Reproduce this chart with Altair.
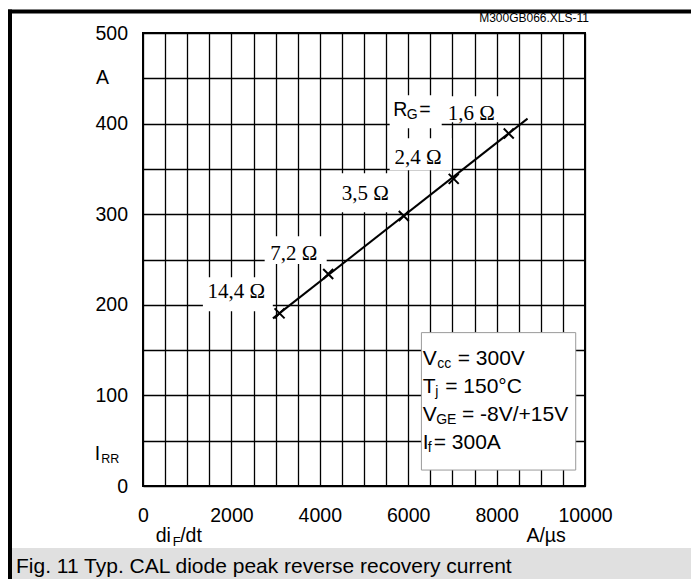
import altair as alt
import pandas as pd

# ---------------- data ----------------
didt = [3090, 4190, 5900, 7030, 8275]          # A/µs at the marked points
irr = [190.5, 234, 298, 339, 389]               # A
rg_labels = ["14,4 Ω", "7,2 Ω", "3,5 Ω", "2,4 Ω", "1,6 Ω"]
fit_didt = [2940, 8700]                         # ends of the drawn line
fit_irr = [185, 405.5]

x_grid = list(range(0, 10001, 500))
y_grid = list(range(0, 501, 50))

legend_main = ["V", "T", "V", "I"]
legend_sub = ["cc", "j", "GE", "f"]
legend_rest = ["= 300V", "= 150°C", "= -8V/+15V", "= 300A"]

caption = "Fig. 11 Typ. CAL diode peak reverse recovery current"
doc_id = "M300GB066.XLS-11"

# ---------------- annotation anchors (data coordinates) ----------------
label_x = [2109, 3414, 5027, 6222, 7425]
label_y = [207, 249.3, 315.5, 355.2, 403.7]
box_x1 = [1355, 2753, 4337, 5581, 5581, 6758]
box_x2 = [2937, 4156, 5695, 6984, 6758, 8183]
box_y1 = [193, 244.9, 302.2, 348.6, 394.9, 401.5]
box_y2 = [230.5, 275.8, 345.2, 383.9, 431.3, 430.2]
legend_box = dict(x1=6299, x2=9790, y1=17.6, y2=169.3)
legend_x = 6328
legend_y = [133.5, 102.6, 71.7, 40.8]
sub_dx = [14.5, 12.5, 13.5, 5]
rest_dx = [35, 22.5, 39.3, 11]

W, H = 442, 453
SANS = "Liberation Sans"
SERIF = "Liberation Serif"

xs = alt.Scale(domain=[0, 10000], nice=False, zero=False)
ys = alt.Scale(domain=[0, 500], nice=False, zero=False)
xaxis = alt.Axis(values=x_grid, format="d",
                 labelExpr="datum.value % 2000 === 0 ? datum.label : ''",
                 grid=True, gridColor="black", gridWidth=1.3, gridOpacity=1,
                 ticks=False, tickSize=0, domain=False, title=None,
                 labelFont=SANS, labelFontSize=19.5, labelColor="black",
                 labelBaseline="alphabetic", labelPadding=35.5, labelFlush=False,
                 labelOverlap=False)
yaxis = alt.Axis(values=y_grid, format="d",
                 labelExpr="datum.value % 100 === 0 ? datum.label : ''",
                 grid=True, gridColor="black", gridWidth=1.3, gridOpacity=1,
                 ticks=False, tickSize=0, domain=False, title=None,
                 labelFont=SANS, labelFontSize=19.5, labelColor="black",
                 labelPadding=15.5, labelFlush=False, labelOverlap=False)


def X(f):
    return alt.X(f"{f}:Q", scale=xs, axis=xaxis)


def Y(f):
    return alt.Y(f"{f}:Q", scale=ys, axis=yaxis)


pts = pd.DataFrame({"x": didt, "y": irr})
fit = pd.DataFrame({"x": fit_didt, "y": fit_irr})
labs = pd.DataFrame({"x": label_x, "y": label_y, "t": rg_labels})
boxes = pd.DataFrame({"x": box_x1, "x2": box_x2, "y": box_y1, "y2": box_y2})
lbox = pd.DataFrame({"x": [legend_box["x1"]], "x2": [legend_box["x2"]],
                     "y": [legend_box["y1"]], "y2": [legend_box["y2"]]})
one = pd.DataFrame({"x": [0]})

layers = []

# decorations outside the plot
layers.append(alt.Chart(one).mark_rect(color="#e0e0e0").encode(
    x=alt.value(-135), x2=alt.value(560), y=alt.value(515), y2=alt.value(560)))
layers.append(alt.Chart(one).mark_rule(color="black", strokeWidth=4).encode(
    x=alt.value(-135), x2=alt.value(560), y=alt.value(-21.5)))
layers.append(alt.Chart(one).mark_rule(color="black", strokeWidth=4).encode(
    x=alt.value(-133), y=alt.value(-23.5), y2=alt.value(560)))
layers.append(alt.Chart(one).mark_text(font=SANS, fontSize=21, align="left",
                                       baseline="alphabetic", color="black").encode(
    x=alt.value(-127), y=alt.value(540), text=alt.value(caption)))
layers.append(alt.Chart(one).mark_text(font=SANS, fontSize=12, align="right",
                                       baseline="alphabetic", color="black").encode(
    x=alt.value(446), y=alt.value(-11.3), text=alt.value(doc_id)))

# white boxes behind labels
layers.append(alt.Chart(boxes).mark_rect(color="white").encode(
    x=X("x"), x2="x2", y=Y("y"), y2="y2"))
# legend box
layers.append(alt.Chart(lbox).mark_rect(fill="white", stroke="#9a9a9a", strokeWidth=1).encode(
    x=X("x"), x2="x2", y=Y("y"), y2="y2"))

# curve and markers
layers.append(alt.Chart(fit).mark_line(color="black", strokeWidth=2).encode(x=X("x"), y=Y("y")))
layers.append(alt.Chart(pts).mark_point(shape="M-1,-1L1,1M-1,1L1,-1", size=100, filled=False,
                                        color="black", strokeWidth=2, opacity=1).encode(
    x=X("x"), y=Y("y")))

# RG labels
layers.append(alt.Chart(labs).mark_text(font=SERIF, fontSize=21, align="center",
                                        baseline="alphabetic", color="black").encode(
    x=X("x"), y=Y("y"), text="t:N"))
rgdf = pd.DataFrame({"x": [5661], "y": [408.1]})
layers.append(alt.Chart(rgdf).mark_text(font=SANS, fontSize=19.5, align="left",
                                        baseline="alphabetic", color="black").encode(
    x=X("x"), y=Y("y"), text=alt.value("R")))
layers.append(alt.Chart(rgdf).mark_text(font=SANS, fontSize=14, align="left", dx=13.5, dy=2.3,
                                        baseline="alphabetic", color="black").encode(
    x=X("x"), y=Y("y"), text=alt.value("G")))
layers.append(alt.Chart(rgdf).mark_text(font=SANS, fontSize=19.5, align="left", dx=26,
                                        baseline="alphabetic", color="black").encode(
    x=X("x"), y=Y("y"), text=alt.value("=")))

# legend text
for i in range(4):
    d = pd.DataFrame({"x": [legend_x], "y": [legend_y[i]]})
    layers.append(alt.Chart(d).mark_text(font=SANS, fontSize=21, align="left",
                                         baseline="alphabetic", color="black").encode(
        x=X("x"), y=Y("y"), text=alt.value(legend_main[i])))
    layers.append(alt.Chart(d).mark_text(font=SANS, fontSize=14, align="left", dx=sub_dx[i], dy=3,
                                         baseline="alphabetic", color="black").encode(
        x=X("x"), y=Y("y"), text=alt.value(legend_sub[i])))
    layers.append(alt.Chart(d).mark_text(font=SANS, fontSize=21, align="left", dx=rest_dx[i],
                                         baseline="alphabetic", color="black").encode(
        x=X("x"), y=Y("y"), text=alt.value(legend_rest[i])))

# axis unit / name labels
ya = pd.DataFrame({"x": [0], "y": [444.2]})
layers.append(alt.Chart(ya).mark_text(font=SANS, fontSize=19.5, align="left", dx=-47,
                                      baseline="alphabetic", color="black").encode(
    x=X("x"), y=Y("y"), text=alt.value("A")))
yi = pd.DataFrame({"x": [0], "y": [28.7]})
layers.append(alt.Chart(yi).mark_text(font=SANS, fontSize=19.5, align="left", dx=-48.3,
                                      baseline="alphabetic", color="black").encode(
    x=X("x"), y=Y("y"), text=alt.value("I")))
layers.append(alt.Chart(yi).mark_text(font=SANS, fontSize=12.5, align="left", dx=-41.8, dy=3.3,
                                      baseline="alphabetic", color="black").encode(
    x=X("x"), y=Y("y"), text=alt.value("RR")))
xd = pd.DataFrame({"x": [287]})
layers.append(alt.Chart(xd).mark_text(font=SANS, fontSize=19.5, align="left",
                                      baseline="alphabetic", color="black").encode(
    x=X("x"), y=alt.value(508.7), text=alt.value("di")))
layers.append(alt.Chart(xd).mark_text(font=SANS, fontSize=13, align="left", dx=17, dy=4.3,
                                      baseline="alphabetic", color="black").encode(
    x=X("x"), y=alt.value(508.7), text=alt.value("F")))
layers.append(alt.Chart(xd).mark_text(font=SANS, fontSize=19.5, align="left", dx=24.5,
                                      baseline="alphabetic", color="black").encode(
    x=X("x"), y=alt.value(508.7), text=alt.value("/dt")))
xu = pd.DataFrame({"x": [8674]})
layers.append(alt.Chart(xu).mark_text(font=SANS, fontSize=19.5, align="left",
                                      baseline="alphabetic", color="black").encode(
    x=X("x"), y=alt.value(508.7), text=alt.value("A/µs")))

chart = alt.layer(*layers).properties(
    width=W, height=H,
    padding={"left": 135, "top": 25, "right": 106, "bottom": 93},
    autosize=alt.AutoSizeParams(type="none"),
    background="white",
).configure_view(stroke="black", strokeWidth=2)

chart.save("out.html", embed_options={"renderer": "svg", "actions": False})
